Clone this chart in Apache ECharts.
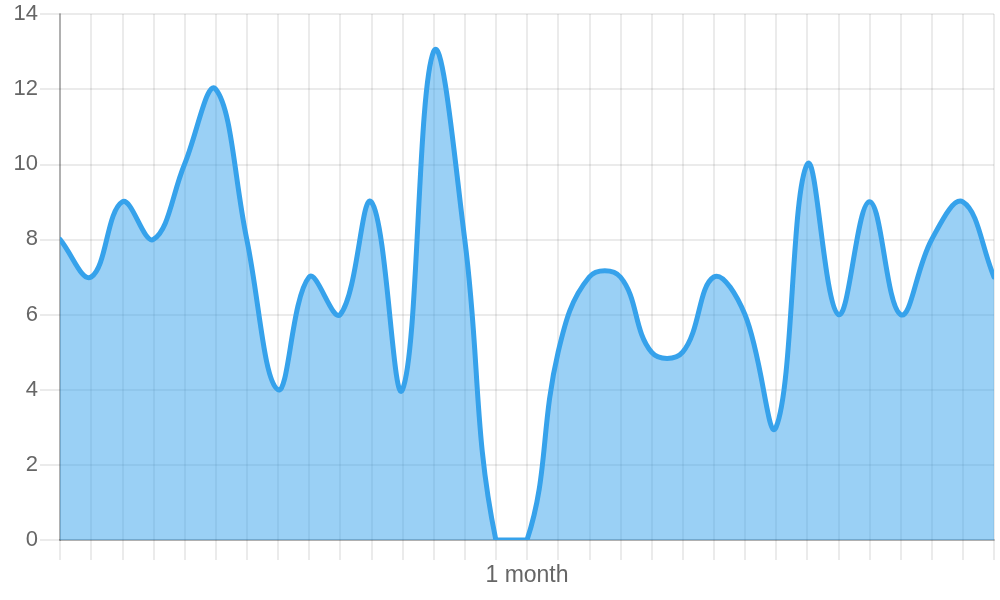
<!DOCTYPE html>
<html>
<head>
<meta charset="utf-8">
<script src="https://cdn.jsdelivr.net/npm/echarts@6/dist/echarts.min.js"></script>
<style>
  html, body { margin: 0; padding: 0; background: #fff; }
  #chart { width: 1000px; height: 600px; }
</style>
</head>
<body>
<div id="chart"></div>
<script>
// one point per day over the month
const days = Array.from({ length: 31 }, (_, i) => String(i + 1));
const values = [8, 7, 9, 8, 10, 12, 8, 4, 7, 6, 9, 4, 13, 8, 0, 0, 5, 7, 7, 5, 5, 7, 6, 3, 10, 6, 9, 6, 8, 9, 7];
const axisTitle = '1 month';

const chart = echarts.init(document.getElementById('chart'));
const font = 'Liberation Sans, Arial, Helvetica, sans-serif';
const TENSION = 0.4;

// cardinal-style spline like chart.js (tension 0.4, control points capped to the plot area)
function splinePath(pts, area) {
  const clampX = x => Math.max(area.x, Math.min(area.x + area.width, x));
  const clampY = y => Math.max(area.y, Math.min(area.y + area.height, y));
  const cps = pts.map((cur, i) => {
    const prev = pts[i - 1] || cur;
    const next = pts[i + 1] || cur;
    const d01 = Math.hypot(cur[0] - prev[0], cur[1] - prev[1]);
    const d12 = Math.hypot(next[0] - cur[0], next[1] - cur[1]);
    let s01 = d01 / (d01 + d12), s12 = d12 / (d01 + d12);
    if (isNaN(s01)) s01 = 0;
    if (isNaN(s12)) s12 = 0;
    const fa = TENSION * s01, fb = TENSION * s12;
    return {
      prev: [clampX(cur[0] - fa * (next[0] - prev[0])), clampY(cur[1] - fa * (next[1] - prev[1]))],
      next: [clampX(cur[0] + fb * (next[0] - prev[0])), clampY(cur[1] + fb * (next[1] - prev[1]))]
    };
  });
  let d = 'M' + pts[0][0] + ' ' + pts[0][1];
  for (let i = 1; i < pts.length; i++) {
    const a = cps[i - 1].next, b = cps[i].prev, p = pts[i];
    d += ' C' + a[0] + ' ' + a[1] + ' ' + b[0] + ' ' + b[1] + ' ' + p[0] + ' ' + p[1];
  }
  return d;
}

chart.setOption({
  animation: false,
  grid: { left: 60, right: 6, top: 14, bottom: 60, containLabel: false },
  xAxis: {
    type: 'category',
    data: days,
    boundaryGap: false,
    name: axisTitle,
    nameLocation: 'middle',
    nameGap: 24,
    nameTextStyle: { color: '#666', fontSize: 23, fontFamily: font },
    axisLine: { lineStyle: { color: 'rgba(0,0,0,0.25)', width: 2 } },
    axisTick: { show: true, length: 20, interval: 0, lineStyle: { color: 'rgba(0,0,0,0.08)', width: 2 } },
    axisLabel: { show: false },
    splitLine: { show: true, interval: 0, lineStyle: { color: 'rgba(0,0,0,0.08)', width: 2 } }
  },
  yAxis: {
    type: 'value',
    min: 0,
    max: 14,
    interval: 2,
    axisLine: { show: true, lineStyle: { color: 'rgba(0,0,0,0.25)', width: 2 } },
    axisTick: { show: true, length: 20, lineStyle: { color: 'rgba(0,0,0,0.08)', width: 2 } },
    axisLabel: { color: '#666', fontSize: 22, fontFamily: font, margin: 22 },
    splitLine: { show: true, lineStyle: { color: 'rgba(0,0,0,0.08)', width: 2 } }
  },
  series: [{
    type: 'custom',
    data: values.map((v, i) => [i, v]),
    encode: { x: 0, y: 1 },
    clip: true,
    renderItem: function (params, api) {
      if (params.dataIndex !== 0) return null;
      const pts = values.map((v, i) => api.coord([i, v]));
      const base = api.coord([0, 0])[1];
      const line = splinePath(pts, params.coordSys);
      const last = pts[pts.length - 1];
      const areaPath = line + ' L' + last[0] + ' ' + base + ' L' + pts[0][0] + ' ' + base + ' Z';
      return {
        type: 'group',
        children: [
          { type: 'path', shape: { pathData: areaPath }, style: { fill: 'rgba(54,162,235,0.5)', stroke: null } },
          { type: 'path', shape: { pathData: line }, style: { fill: null, stroke: '#36a2eb', lineWidth: 5, lineJoin: 'round', lineCap: 'round' } }
        ]
      };
    }
  }]
});
</script>
</body>
</html>
